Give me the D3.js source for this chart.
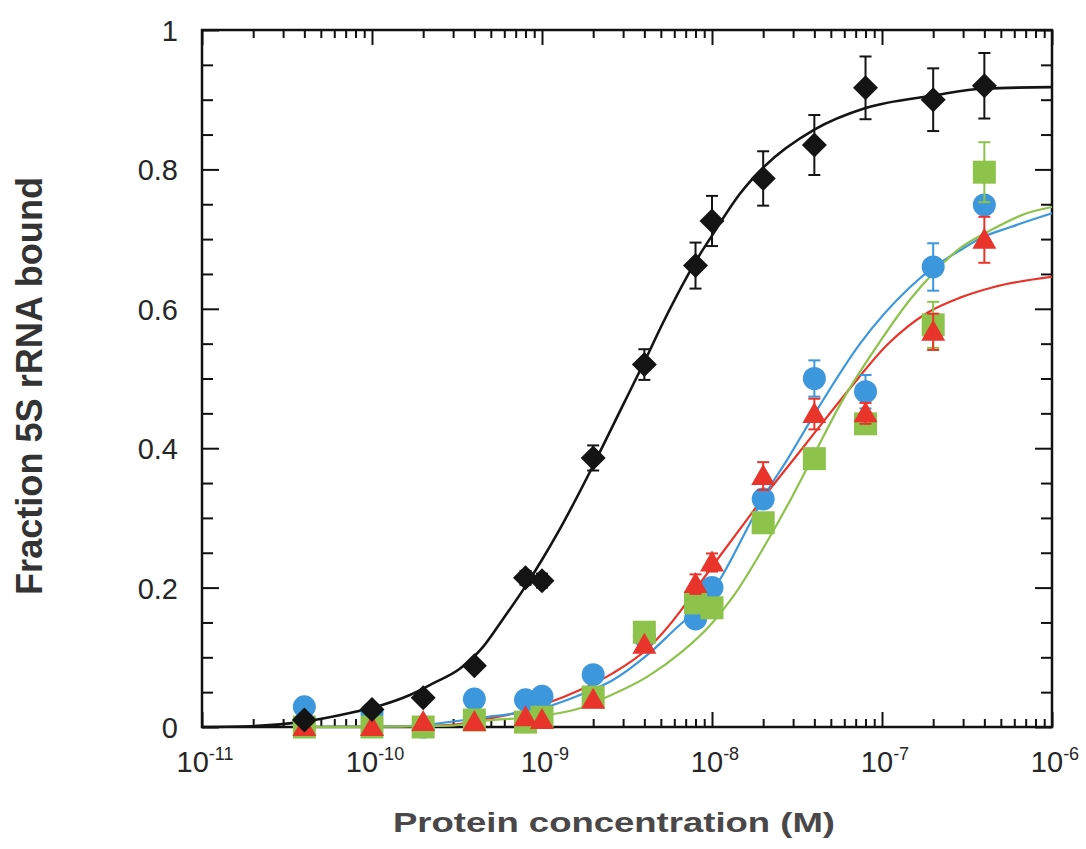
<!DOCTYPE html>
<html>
<head>
<meta charset="utf-8">
<script src="https://cdn.jsdelivr.net/npm/d3@7"></script>
<style>
  body { margin: 0; background: #ffffff; }
  svg { display: block; }
</style>
</head>
<body>
<svg id="chart" width="1086" height="849"></svg>
<script>
// Protein concentrations (M) used in the titration
const concentrations = [4e-11, 1e-10, 2e-10, 4e-10, 8e-10, 1e-9, 2e-9, 4e-9, 8e-9, 1e-8, 2e-8, 4e-8, 8e-8, 2e-7, 4e-7];

// Fraction of 5S rRNA bound, per protein
const blackValues = [0.01, 0.025, 0.042, 0.088, 0.214, 0.21, 0.386, 0.52, 0.662, 0.726, 0.787, 0.835, 0.917, 0.9, 0.92];
const blackErrors = [0, 0, 0, 0, 0.01, 0.01, 0.018, 0.022, 0.033, 0.036, 0.039, 0.043, 0.045, 0.045, 0.047];

const blueValues = [0.029, 0.02, 0.0, 0.04, 0.039, 0.044, 0.075, 0.13, 0.155, 0.2, 0.327, 0.5, 0.481, 0.66, 0.749];
const blueErrors = [0, 0, 0, 0, 0, 0, 0, 0, 0, 0, 0, 0.026, 0.024, 0.034, 0];

const redValues = [0, 0, 0.007, 0.007, 0.014, 0.01, 0.039, 0.118, 0.205, 0.236, 0.36, 0.449, 0.45, 0.567, 0.699];
const redErrors = [0, 0, 0, 0, 0, 0, 0, 0, 0.014, 0.013, 0.02, 0.022, 0.015, 0.026, 0.033];

const greenValues = [0, 0, 0, 0.01, 0.007, 0.014, 0.043, 0.136, 0.178, 0.171, 0.293, 0.385, 0.435, 0.577, 0.796];
const greenErrors = [0, 0, 0, 0, 0, 0, 0, 0, 0, 0, 0, 0.012, 0.013, 0.033, 0.043];

// Fitted binding curves: [concentration (M), fraction bound]
const blackFit = [[1e-11, 0], [1.9e-11, 0.001], [3.8e-11, 0.007], [7.4e-11, 0.02], [1.16e-10, 0.032],
  [1.67e-10, 0.046], [2.3e-10, 0.063], [3.3e-10, 0.084], [4.5e-10, 0.115], [5.9e-10, 0.155],
  [7.9e-10, 0.2], [1.0e-9, 0.24], [1.28e-9, 0.285], [1.97e-9, 0.372], [2.9e-9, 0.455],
  [4.0e-9, 0.524], [5.15e-9, 0.58], [8.2e-9, 0.672], [1.0e-8, 0.705], [1.46e-8, 0.765],
  [2.05e-8, 0.805], [4.0e-8, 0.857], [8.0e-8, 0.888], [2.0e-7, 0.906], [4.0e-7, 0.916], [1e-6, 0.918]];

const blueFit = [[4e-11, 0], [1.46e-10, 0.001], [4.3e-10, 0.013], [1.07e-9, 0.029], [1.67e-9, 0.046],
  [2.6e-9, 0.067], [4.15e-9, 0.103], [6.5e-9, 0.147], [7.73e-9, 0.163], [1.07e-8, 0.205],
  [1.67e-8, 0.292], [2.05e-8, 0.333], [2.76e-8, 0.383], [4.15e-8, 0.455], [7.43e-8, 0.55],
  [1.46e-7, 0.631], [2.0e-7, 0.659], [2.88e-7, 0.684], [3.77e-7, 0.701],
  [5.66e-7, 0.717], [1e-6, 0.737]];

const redFit = [[4e-11, 0], [1.46e-10, 0.001], [2.9e-10, 0.003], [4.3e-10, 0.01], [6.7e-10, 0.019],
  [1.07e-9, 0.034], [1.67e-9, 0.053], [2.6e-9, 0.077], [4.15e-9, 0.112], [6.5e-9, 0.166],
  [7.73e-9, 0.192], [1.11e-8, 0.245], [1.61e-8, 0.298], [2.11e-8, 0.336], [3.0e-8, 0.383],
  [4.04e-8, 0.423], [6.49e-8, 0.486], [1.07e-7, 0.548], [1.84e-7, 0.594], [2.88e-7, 0.616],
  [4.5e-7, 0.631], [1e-6, 0.646]];

const greenFit = [[4e-11, 0], [2.9e-10, 0.002], [4.3e-10, 0.008], [1.07e-9, 0.017], [1.67e-9, 0.027],
  [2.4e-9, 0.043], [4.15e-9, 0.072], [6.5e-9, 0.106], [1.0e-8, 0.149], [1.33e-8, 0.187],
  [2.19e-8, 0.273], [3.0e-8, 0.333], [3.93e-8, 0.388], [5.9e-8, 0.47], [9.73e-8, 0.553],
  [1.46e-7, 0.613], [2.0e-7, 0.651], [2.88e-7, 0.687], [4.15e-7, 0.71], [7.1e-7, 0.737], [1e-6, 0.746]];

// Axis ticks
const decadeExponents = [-11, -10, -9, -8, -7, -6];
const yMajorTicks = [0, 0.2, 0.4, 0.6, 0.8, 1];
const yTickLabels = ["0", "0.2", "0.4", "0.6", "0.8", "1"];

const xTitle = "Protein concentration (M)";
const yTitle = "Fraction 5S rRNA bound";

// ---------------------------------------------------------------
const plot = { left: 202, right: 1052, top: 30, bottom: 727 };
const ink = "#111111";
const font = "'Liberation Sans', Arial, Helvetica, sans-serif";

const x = d3.scaleLog().domain([1e-11, 1e-6]).range([plot.left, plot.right]);
const y = d3.scaleLinear().domain([0, 1]).range([plot.bottom, plot.top]);

const svg = d3.select("#chart");
svg.append("rect").attr("width", 1086).attr("height", 849).attr("fill", "#ffffff");

const decades = decadeExponents.map(e => Math.pow(10, e));
const xMinor = x.ticks().filter(t => !decades.some(d => Math.abs(Math.log10(t) - Math.log10(d)) < 1e-6));
const yMinor = d3.range(0, 21).map(i => i * 0.05).filter(v => !yMajorTicks.some(m => Math.abs(m - v) < 1e-9));

function styleAxis(g) {
  g.select(".domain").remove();
  g.selectAll(".tick line").attr("stroke", ink).attr("stroke-width", 2);
}

// inward ticks on all four sides
svg.append("g").attr("transform", `translate(0,${plot.bottom})`)
  .call(d3.axisBottom(x).tickValues(decades).tickSize(-15).tickFormat("")).call(styleAxis);
svg.append("g").attr("transform", `translate(0,${plot.bottom})`)
  .call(d3.axisBottom(x).tickValues(xMinor).tickSize(-8).tickFormat("")).call(styleAxis);
svg.append("g").attr("transform", `translate(0,${plot.top})`)
  .call(d3.axisTop(x).tickValues(decades).tickSize(-15).tickFormat("")).call(styleAxis);
svg.append("g").attr("transform", `translate(0,${plot.top})`)
  .call(d3.axisTop(x).tickValues(xMinor).tickSize(-8).tickFormat("")).call(styleAxis);

const yLeft = svg.append("g").attr("transform", `translate(${plot.left},0)`)
  .call(d3.axisLeft(y).tickValues(yMajorTicks).tickSize(-17).tickPadding(24)
    .tickFormat((d, i) => yTickLabels[i]))
  .call(styleAxis);
yLeft.selectAll(".tick text")
  .attr("font-family", font).attr("font-size", 29).attr("fill", "#262626").attr("dy", "0.36em");
svg.append("g").attr("transform", `translate(${plot.left},0)`)
  .call(d3.axisLeft(y).tickValues(yMinor).tickSize(-11).tickFormat("")).call(styleAxis);
svg.append("g").attr("transform", `translate(${plot.right},0)`)
  .call(d3.axisRight(y).tickValues(yMajorTicks).tickSize(-17).tickFormat("")).call(styleAxis);
svg.append("g").attr("transform", `translate(${plot.right},0)`)
  .call(d3.axisRight(y).tickValues(yMinor).tickSize(-11).tickFormat("")).call(styleAxis);

// power-of-ten labels under the x axis
const xLabels = svg.append("g")
  .selectAll("text").data(decadeExponents).join("text")
  .attr("x", e => x(Math.pow(10, e)) + 3)
  .attr("y", plot.bottom + 45)
  .attr("text-anchor", "middle")
  .attr("font-family", font).attr("font-size", 29).attr("fill", "#262626");
xLabels.append("tspan").text("10");
xLabels.append("tspan").attr("dy", -12).attr("font-size", 18).text(e => String(e));

// frame
svg.append("rect")
  .attr("x", plot.left).attr("y", plot.top)
  .attr("width", plot.right - plot.left).attr("height", plot.bottom - plot.top)
  .attr("fill", "none").attr("stroke", ink).attr("stroke-width", 2.5);

// axis titles
svg.append("text")
  .attr("x", 614).attr("y", 832)
  .attr("text-anchor", "middle")
  .attr("font-family", font).attr("font-weight", "bold").attr("font-size", 28)
  .attr("fill", "#4a4748")
  .attr("textLength", 442).attr("lengthAdjust", "spacingAndGlyphs")
  .text(xTitle);

svg.append("text")
  .attr("transform", "translate(42,386) rotate(-90)")
  .attr("text-anchor", "middle")
  .attr("font-family", font).attr("font-weight", "bold").attr("font-size", 36)
  .attr("fill", "#333333")
  .attr("textLength", 418).attr("lengthAdjust", "spacingAndGlyphs")
  .text(yTitle);

// fitted curves
const line = d3.line().x(d => x(d[0])).y(d => y(d[1])).curve(d3.curveMonotoneX);

const colours = { black: "#141414", blue: "#3c97dd", red: "#e8342b", green: "#8dc24b" };

svg.append("path").datum(redFit).attr("d", line).attr("fill", "none")
  .attr("stroke", colours.red).attr("stroke-width", 2.2);
svg.append("path").datum(blueFit).attr("d", line).attr("fill", "none")
  .attr("stroke", colours.blue).attr("stroke-width", 2.2);
svg.append("path").datum(greenFit).attr("d", line).attr("fill", "none")
  .attr("stroke", colours.green).attr("stroke-width", 2.2);
svg.append("path").datum(blackFit).attr("d", line).attr("fill", "none")
  .attr("stroke", colours.black).attr("stroke-width", 2.6);

// marker shapes, centred on the data point
const shapes = {
  circle: "M11.5,0A11.5,11.5 0 1,1 -11.5,0A11.5,11.5 0 1,1 11.5,0Z",
  square: "M-11.5,-11.5H11.5V11.5H-11.5Z",
  triangle: "M0,-12L12,9H-12Z",
  diamond: "M0,-12.5L12.5,0L0,12.5L-12.5,0Z"
};

function drawSeries(values, errors, colour, shape) {
  const rows = concentrations.map((c, i) => ({ c, v: values[i], e: errors[i] }));
  const g = svg.append("g");
  const withErr = rows.filter(d => d.e > 0);
  const eb = g.append("g").attr("stroke", colour).attr("stroke-width", 2).attr("fill", "none");
  eb.selectAll("line.stem").data(withErr).join("line").attr("class", "stem")
    .attr("x1", d => x(d.c)).attr("x2", d => x(d.c))
    .attr("y1", d => y(d.v - d.e)).attr("y2", d => y(d.v + d.e));
  eb.selectAll("line.capTop").data(withErr).join("line").attr("class", "capTop")
    .attr("x1", d => x(d.c) - 6).attr("x2", d => x(d.c) + 6)
    .attr("y1", d => y(d.v + d.e)).attr("y2", d => y(d.v + d.e));
  eb.selectAll("line.capBot").data(withErr).join("line").attr("class", "capBot")
    .attr("x1", d => x(d.c) - 6).attr("x2", d => x(d.c) + 6)
    .attr("y1", d => y(d.v - d.e)).attr("y2", d => y(d.v - d.e));
  g.selectAll("path.mark").data(rows).join("path").attr("class", "mark")
    .attr("d", shapes[shape])
    .attr("transform", d => `translate(${x(d.c)},${y(d.v)})`)
    .attr("fill", colour);
}

drawSeries(blueValues, blueErrors, colours.blue, "circle");
drawSeries(greenValues, greenErrors, colours.green, "square");
drawSeries(redValues, redErrors, colours.red, "triangle");
drawSeries(blackValues, blackErrors, colours.black, "diamond");
</script>
</body>
</html>
